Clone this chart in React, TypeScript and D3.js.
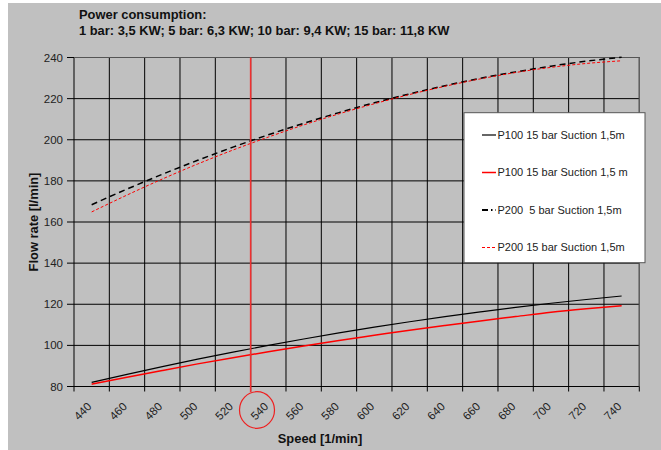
import React from "react";
import * as d3 from "d3";

// speed categories (x axis)
const speeds = ["440", "460", "480", "500", "520", "540", "560", "580", "600", "620", "640", "660", "680", "700", "720", "740"];

// flow rate [l/min] per speed
const p100Black = [82.0, 85.9, 89.7, 93.3, 96.7, 100.0, 103.1, 106.1, 108.9, 111.5, 114.0, 116.3, 118.5, 120.5, 122.3, 124.0];
const p100Red = [81.1, 84.5, 87.8, 91.0, 94.0, 96.9, 99.7, 102.4, 104.9, 107.4, 109.7, 111.9, 114.0, 116.1, 117.8, 119.3];
const p200Black = [168.4, 176.0, 183.2, 190.0, 196.4, 202.4, 208.0, 213.2, 218.0, 222.3, 226.3, 229.9, 233.0, 235.8, 238.2, 240.1];
const p200Red = [164.9, 173.1, 180.9, 188.2, 195.0, 201.3, 207.2, 212.6, 217.5, 222.0, 226.0, 229.6, 232.7, 235.2, 237.1, 238.4];

const yTicks = [80, 100, 120, 140, 160, 180, 200, 220, 240];

const seriesLabels = [
  "P100 15 bar Suction 1,5m",
  "P100 15 bar Suction 1,5 m",
  "P200  5 bar Suction 1,5m",
  "P200 15 bar Suction 1,5m",
];

const titleLines = ["Power consumption:", "1 bar: 3,5 KW; 5 bar: 6,3 KW; 10 bar: 9,4 KW; 15 bar: 11,8 KW"];
const markedSpeed = "540";

const W = 661;
const H = 450;
const plot = { left: 74, right: 639.3, top: 57.5, bottom: 386.5 };
const font = "Arial, 'Liberation Sans', sans-serif";

const styles = [
  { color: "#000", width: 1.2, dash: "none" },
  { color: "#ff0000", width: 1.5, dash: "none" },
  { color: "#000", width: 1.5, dash: "6,4" },
  { color: "#ff0000", width: 1, dash: "3,2" },
];

export default function App() {
  const x = d3.scaleBand<string>().domain(speeds).range([plot.left, plot.right]);
  const bw = x.bandwidth();
  const cx = (s: string) => (x(s) as number) + bw / 2;
  const y = d3.scaleLinear().domain([80, 240]).range([plot.bottom, plot.top]);

  const line = d3
    .line<number>()
    .x((_, i) => cx(speeds[i]))
    .y((d) => y(d))
    .curve(d3.curveMonotoneX);

  const series = [p100Black, p100Red, p200Black, p200Red];
  const edges = speeds.map((s) => x(s) as number).concat([plot.right]);
  const markX = x(markedSpeed) as number;

  const legend = { x: 464, y: 112.7, w: 181, h: 150 };

  return (
    <svg width={W} height={H} style={{ position: "absolute", left: 0, top: 0 }} fontFamily={font}>
      <rect x={0} y={0} width={W} height={H} fill="#fff" />
      <rect x={8} y={3} width={W - 8} height={H - 3} fill="#c0c0c0" />

      {titleLines.map((t, i) => (
        <text key={t} x={79} y={19 + i * 16} fontSize={12.9} fontWeight="bold" fill="#111">
          {t}
        </text>
      ))}

      {/* horizontal gridlines */}
      {yTicks.map((v) => (
        <g key={v}>
          <line x1={plot.left - 7} x2={plot.right} y1={y(v)} y2={y(v)} stroke="#000" strokeWidth={1} />
          <text x={63} y={y(v)} dy="0.35em" textAnchor="end" fontSize={11.5} fill="#222">
            {v}
          </text>
        </g>
      ))}

      {/* vertical gridlines */}
      {edges.map((ex, i) => (
        <line key={i} x1={ex} x2={ex} y1={plot.top} y2={plot.bottom + 5} stroke="#000" strokeWidth={1} />
      ))}
      <line x1={plot.right} x2={plot.right} y1={plot.top} y2={plot.bottom} stroke="#666" strokeWidth={1.2} />
      <line x1={plot.left} x2={plot.right} y1={plot.top} y2={plot.top} stroke="#555" strokeWidth={1.2} />

      {speeds.map((s) => (
        <text
          key={s}
          transform={`translate(${cx(s) - 5},${plot.bottom + 15}) rotate(-45)`}
          textAnchor="end"
          dy="0.7em"
          fontSize={11.5}
          fill="#222"
        >
          {s}
        </text>
      ))}

      {series.map((d, i) => (
        <path
          key={i}
          d={line(d) || ""}
          fill="none"
          stroke={styles[i].color}
          strokeWidth={styles[i].width}
          strokeDasharray={styles[i].dash}
        />
      ))}

      {/* marked speed */}
      <line x1={markX} x2={markX} y1={plot.top} y2={392} stroke="#ee3030" strokeWidth={1.6} />
      <ellipse cx={257} cy={410} rx={17.5} ry={18.3} fill="none" stroke="#ee2020" strokeWidth={1.2} />

      {/* legend */}
      <rect x={legend.x} y={legend.y} width={legend.w} height={legend.h} fill="#fff" stroke="#555" strokeWidth={1} />
      {seriesLabels.map((lbl, i) => {
        const ly = 135 + i * 37.5;
        return (
          <g key={i}>
            <line
              x1={482}
              x2={496}
              y1={ly}
              y2={ly}
              stroke={styles[i].color}
              strokeWidth={i === 2 ? 2.2 : styles[i].width}
              strokeDasharray={i === 2 ? "6,3,1.5,3" : styles[i].dash}
            />
            <text x={497.5} y={ly} dy="0.35em" fontSize={11} fill="#222" style={{ whiteSpace: "pre" }}>
              {lbl}
            </text>
          </g>
        );
      })}

      <text x={320} y={438} dy="0.35em" textAnchor="middle" fontSize={12.9} fontWeight="bold" fill="#111">
        Speed [1/min]
      </text>
      <text
        transform={`translate(33,${(plot.top + plot.bottom) / 2}) rotate(-90)`}
        textAnchor="middle"
        dy="0.35em"
        fontSize={12.9}
        fontWeight="bold"
        fill="#111"
      >
        Flow rate [l/min]
      </text>
    </svg>
  );
}
